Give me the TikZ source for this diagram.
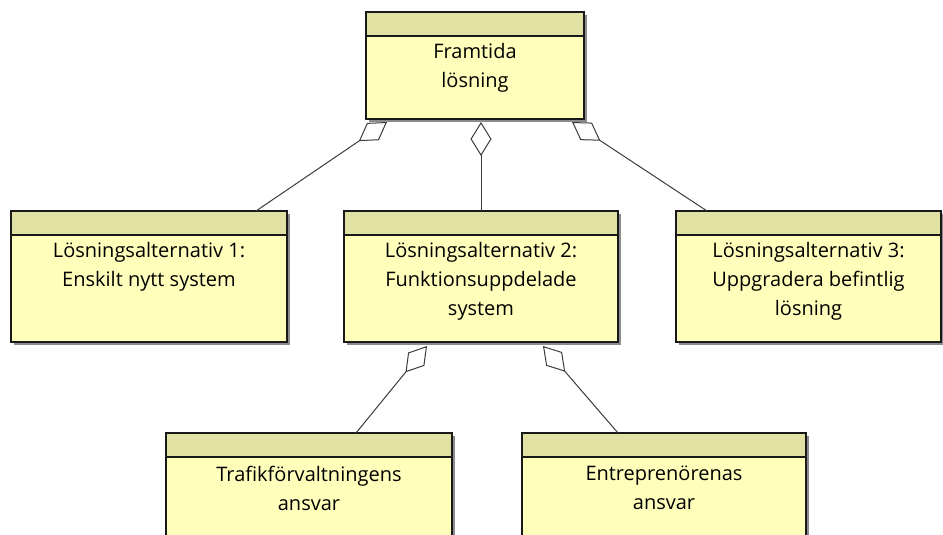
\documentclass[tikz,border=0pt]{standalone}
\usepackage{fontspec}
\setmainfont{Open Sans}
\usetikzlibrary{arrows.meta,shadows,calc}
\definecolor{bodyfill}{RGB}{255,255,187}
\definecolor{headfill}{RGB}{226,225,164}
\definecolor{shadowgray}{RGB}{140,140,140}
\definecolor{edgecol}{RGB}{25,25,25}
\definecolor{linkcol}{RGB}{60,60,60}
\tikzset{
  umlbox/.style={draw=edgecol, line width=1.3pt, fill=bodyfill, outer sep=0pt, inner sep=0pt, anchor=north west,
    drop shadow={shadow xshift=3pt, shadow yshift=-3pt, fill=shadowgray, opacity=1}},
  boxtext/.style={anchor=north, inner sep=0pt, align=center, font=\fontsize{20}{29}\selectfont, text=black},
  agg/.style={draw=linkcol, line width=1pt, -{Diamond[open, length=34pt, width=21pt, line width=1pt]}}
}
\newcommand{\umlheader}[1]{%
  \fill[headfill] (#1.north west) rectangle ([yshift=-24pt]#1.north east);
  \draw[edgecol, line width=1.3pt] ([yshift=-24pt]#1.north west) -- ([yshift=-24pt]#1.north east);
  \draw[edgecol, line width=1.3pt] (#1.north west) rectangle (#1.south east);}
\begin{document}
\begin{tikzpicture}[x=1pt,y=-1pt]
\useasboundingbox (0,0) rectangle (943,535);
\clip (0,0) rectangle (943,535);
\fill[white] (0,0) rectangle (943,535);
% boxes
\node[umlbox, minimum width=218pt, minimum height=107pt] (top) at (366,12) {};
\umlheader{top}
\node[boxtext] (toptxt) at ([yshift=-31pt]top.north) {Framtida\\lösning};

\node[umlbox, minimum width=276pt, minimum height=131pt] (alt1) at (11,211) {};
\umlheader{alt1}
\node[boxtext] (alt1txt) at ([yshift=-31pt]alt1.north) {Lösningsalternativ 1:\\Enskilt nytt system};

\node[umlbox, minimum width=274pt, minimum height=131pt] (alt2) at (344,211) {};
\umlheader{alt2}
\node[boxtext] (alt2txt) at ([yshift=-31pt]alt2.north) {Lösningsalternativ 2:\\Funktionsuppdelade\\system};

\node[umlbox, minimum width=265pt, minimum height=131pt] (alt3) at (676,211) {};
\umlheader{alt3}
\node[boxtext] (alt3txt) at ([yshift=-31pt]alt3.north) {Lösningsalternativ 3:\\Uppgradera befintlig\\lösning};

\node[umlbox, minimum width=286pt, minimum height=131pt] (c1) at (166,433) {};
\umlheader{c1}
\node[boxtext] (c1txt) at ([yshift=-33pt]c1.north) {Trafikförvaltningens\\ansvar};

\node[umlbox, minimum width=284pt, minimum height=131pt] (c2) at (522,433) {};
\umlheader{c2}
\node[boxtext] (c2txt) at ([yshift=-33pt]c2.north) {Entreprenörenas\\ansvar};

% aggregation connectors
\draw[agg] ([xshift=245pt]alt1.north west) -- ([xshift=21pt,yshift=-3pt]top.south west);
\draw[agg] (alt2.north -| 481,0) -- ([yshift=-3pt]top.south -| 481,0);
\draw[agg] ([xshift=31pt]alt3.north west) -- ([xshift=-12pt,yshift=-3pt]top.south east);
\draw[agg] ([xshift=190pt]c1.north west) -- ([xshift=83pt,yshift=-4pt]alt2.south west);
\draw[agg] ([xshift=96pt]c2.north west) -- ([xshift=-75pt,yshift=-4pt]alt2.south east);
\end{tikzpicture}
\end{document}
